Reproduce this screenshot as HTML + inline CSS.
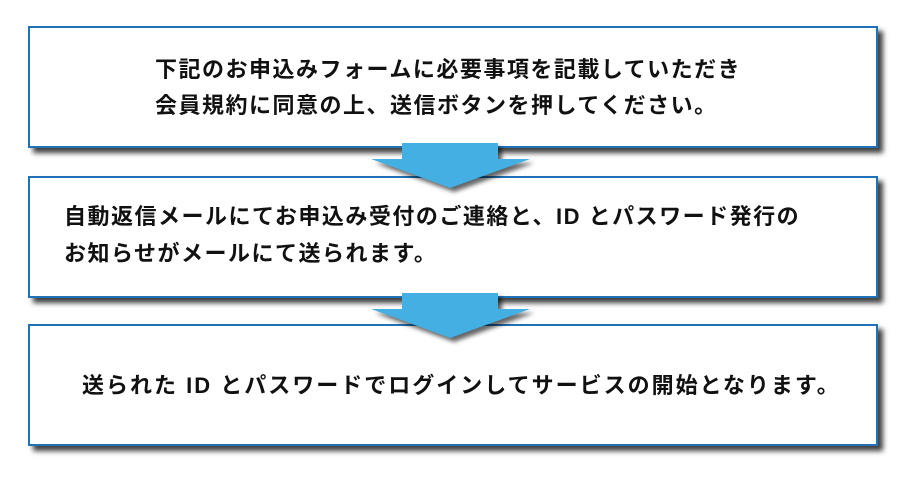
<!DOCTYPE html>
<html><head><meta charset="utf-8"><style>
body{margin:0;width:900px;height:481px;background:#fff;position:relative;overflow:hidden;font-family:"Liberation Sans","Noto Sans CJK JP",sans-serif;}
.box{position:absolute;left:28px;width:846px;height:118px;border:2px solid #1f72b8;background:#fff;box-shadow:5px 5px 5px rgba(0,0,0,0.75);}
.t{position:absolute;font-size:22px;font-weight:bold;color:#111;white-space:nowrap;line-height:1;letter-spacing:1.5px;}
svg{position:absolute;left:0;top:0;}
</style></head><body>
<div class="box" style="top:26px"></div>
<div class="box" style="top:176px"></div>
<div class="box" style="top:324px"></div>
<svg width="900" height="481">
<defs><filter id="s"><feGaussianBlur stdDeviation="2"/></filter></defs>
<g fill="rgba(0,0,0,0.6)" filter="url(#s)">
<polygon points="406,147 502,147 502,163 534,163 454,192 375,163 406,163"/>
<polygon points="406,297 502,297 502,313 534,313 454,342 375,313 406,313"/>
</g>
<g fill="#43afe2">
<polygon points="402,143 498,143 498,159 530,159 450,188 371,159 402,159"/>
<polygon points="402,293 498,293 498,309 530,309 450,338 371,309 402,309"/>
</g>
</svg>
<div class="t" style="left:155px;top:59px">下記のお申込みフォームに必要事項を記載していただき</div>
<div class="t" style="left:155px;top:95px">会員規約に同意の上、送信ボタンを押してください。</div>
<div class="t" style="left:64px;top:206px">自動返信メールにてお申込み受付のご連絡と、ID とパスワード発行の</div>
<div class="t" style="left:64px;top:243px">お知らせがメールにて送られます。</div>
<div class="t" style="left:82px;top:375px;letter-spacing:2px">送られた ID とパスワードでログインしてサービスの開始となります。</div>
</body></html>
